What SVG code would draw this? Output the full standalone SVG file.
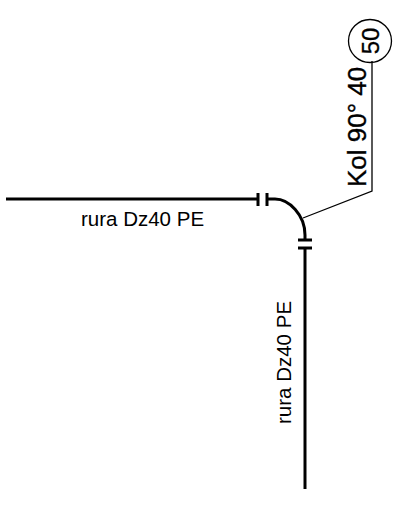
<svg xmlns="http://www.w3.org/2000/svg" width="394" height="509" viewBox="0 0 394 509">
<style>
.p{fill:none;stroke:#000;stroke-width:3}
.l{fill:none;stroke:#000;stroke-width:1.3}
.t{font-family:"Liberation Sans",Arial,sans-serif;fill:#000}
.b{stroke:#000;stroke-width:.35}
</style>
<rect width="394" height="509" fill="#fff"/>
<g id="connectors">
<path class="p" d="M6 199H258"/>
<path class="p" d="M258 193V206M267 193V206"/>
<path class="p" d="M267 199H275C289 199 305 215 305 235V240"/>
<path class="p" d="M298 240H312M298 248H312"/>
<path class="p" d="M305 248V489"/>
<path class="l" d="M303 218L372 191V61"/>
</g>
<g id="label-h"><text class="t" x="81" y="226" font-size="20.5">rura Dz40 PE</text></g>
<g id="label-v"><text class="t" transform="translate(291 424) rotate(-90)" font-size="20.5">rura Dz40 PE</text></g>
<g id="label-kol"><text class="t b" transform="translate(366 187) rotate(-90)" font-size="26">Kol 90° 40</text></g>
<g id="bubble-50">
<circle class="l" cx="370" cy="41" r="21.5"/>
<text class="t b" transform="translate(379 41) rotate(-90)" font-size="24" text-anchor="middle">50</text>
</g>
</svg>
